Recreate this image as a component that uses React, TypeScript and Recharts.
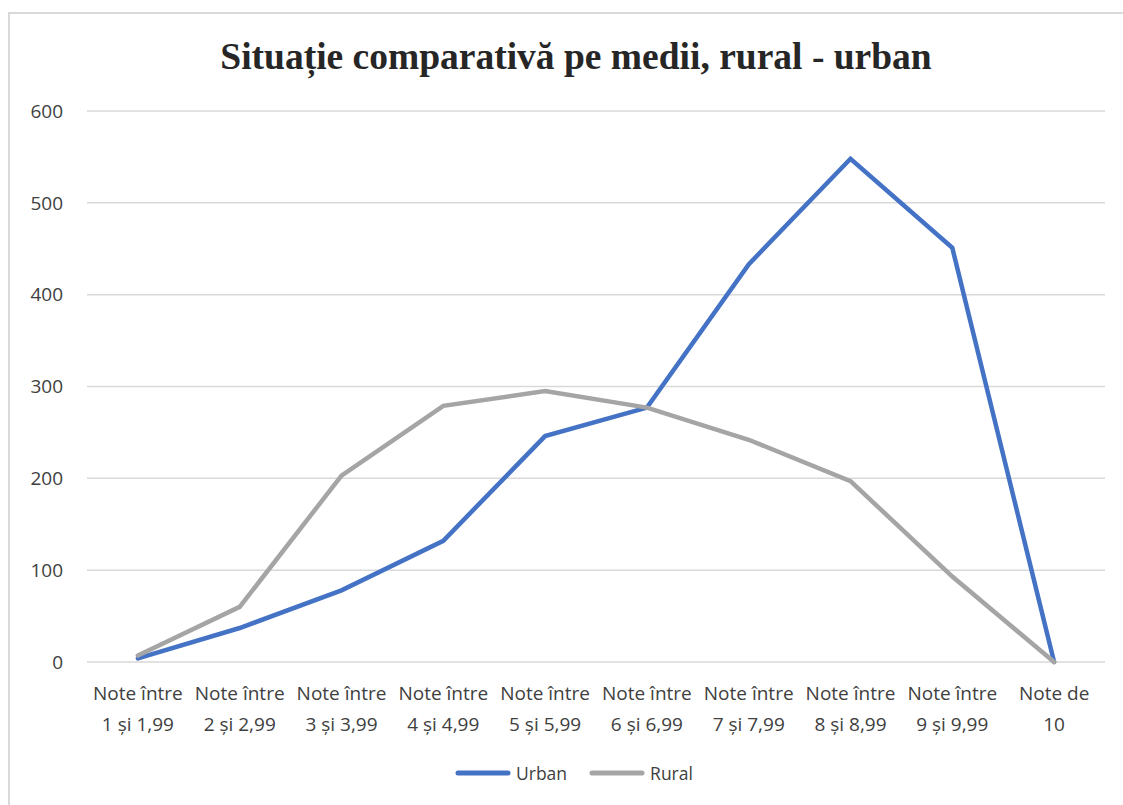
import React from "react";
import { LineChart, Line, XAxis, YAxis, CartesianGrid } from "recharts";

const categories = [
  "Note între|1 și 1,99",
  "Note între|2 și 2,99",
  "Note între|3 și 3,99",
  "Note între|4 și 4,99",
  "Note între|5 și 5,99",
  "Note între|6 și 6,99",
  "Note între|7 și 7,99",
  "Note între|8 și 8,99",
  "Note între|9 și 9,99",
  "Note de|10",
];
const urban = [4, 37, 78, 132, 246, 277, 433, 548, 451, 0];
const rural = [7, 60, 203, 279, 295, 277, 242, 197, 93, 0];
const yTicks = [0, 100, 200, 300, 400, 500, 600];

const data = categories.map((c, i) => ({ cat: c, Urban: urban[i], Rural: rural[i] }));

const FONT = "'Open Sans', 'Liberation Sans', sans-serif";

const XTick = (props: any) => {
  const { x, y, payload } = props;
  const lines = String(payload.value).split("|");
  return (
    <g transform={`translate(${x},${y})`}>
      {lines.map((l: string, i: number) => (
        <text key={i} x={0} y={30 + i * 31} textAnchor="middle" fill="#404040" fontSize={19} fontFamily={FONT}>
          {l}
        </text>
      ))}
    </g>
  );
};

export default function App() {
  return (
    <div style={{ position: "absolute", left: 0, top: 0, width: 1123, height: 805, background: "#fff", overflow: "hidden" }}>
      <div style={{ position: "absolute", left: 8, top: 12, width: 1130, height: 810, borderLeft: "2px solid #d9d9d9", borderTop: "2px solid #d9d9d9", boxSizing: "border-box" }} />
      <div style={{ position: "absolute", left: 0, top: 35, width: 1152, textAlign: "center", fontFamily: "'Liberation Serif', 'Times New Roman', serif", fontWeight: "bold", fontSize: 37.5, color: "#262626" }}>
        Situație comparativă pe medii, rural - urban
      </div>
      <div style={{ position: "absolute", left: 0, top: 0 }}>
        <LineChart width={1123} height={805} data={data} margin={{ top: 111, right: 18, bottom: 113, left: 0 }}>
          <CartesianGrid vertical={false} stroke="#d9d9d9" strokeWidth={1.5} />
          <XAxis dataKey="cat" scale="band" height={30} axisLine={false} tickLine={false} tick={<XTick />} interval={0} />
          <YAxis
            domain={[0, 600]}
            ticks={yTicks}
            width={87}
            axisLine={false}
            tickLine={false}
            tick={{ fill: "#404040", fontSize: 19, fontFamily: FONT, dx: -16 }}
          />
          <Line type="linear" dataKey="Urban" stroke="#4472c4" strokeWidth={4.5} dot={false} isAnimationActive={false} strokeLinecap="round" />
          <Line type="linear" dataKey="Rural" stroke="#a5a5a5" strokeWidth={4.5} dot={false} isAnimationActive={false} strokeLinecap="round" />
        </LineChart>
      </div>
      <div style={{ position: "absolute", left: 455, top: 761, display: "flex", alignItems: "center", fontFamily: FONT, fontSize: 17.5, color: "#404040" }}>
        <svg width={56} height={8} style={{ marginRight: 5 }}>
          <line x1={3} y1={4} x2={53} y2={4} stroke="#4472c4" strokeWidth={5} strokeLinecap="round" />
        </svg>
        <span style={{ marginRight: 22 }}>Urban</span>
        <svg width={56} height={8} style={{ marginRight: 5 }}>
          <line x1={3} y1={4} x2={53} y2={4} stroke="#a5a5a5" strokeWidth={5} strokeLinecap="round" />
        </svg>
        <span>Rural</span>
      </div>
    </div>
  );
}
